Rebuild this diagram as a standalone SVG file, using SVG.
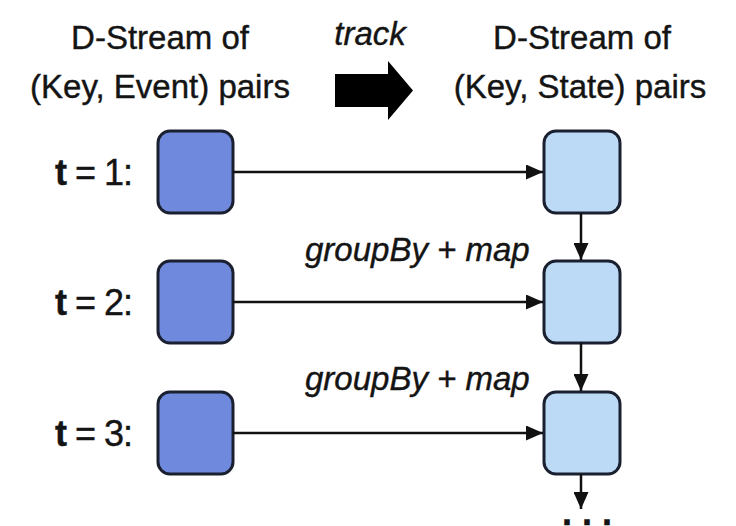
<svg xmlns="http://www.w3.org/2000/svg" width="736" height="526" viewBox="0 0 736 526">
  <defs>
    <marker id="ah" markerUnits="userSpaceOnUse" markerWidth="18" markerHeight="15" refX="17" refY="7.5" orient="auto">
      <path d="M0,0 L17,7.5 L0,15 z" fill="#111"/>
    </marker>
    <style>
      .t { font-family: "Liberation Sans", Arial, sans-serif; fill: #141414; stroke: #141414; stroke-width: 0.4px; }
      .h { font-size: 33px; text-anchor: middle; }
      .it { font-style: italic; font-size: 33px; }
      .lab { font-size: 36px; letter-spacing: -1px; }
      .ev { fill: #6f89dc; stroke: #1b2030; stroke-width: 3; }
      .st { fill: #bcdaf5; stroke: #1b2030; stroke-width: 3; }
      .c { stroke: #111; stroke-width: 2.5; fill: none; marker-end: url(#ah); }
    </style>
  </defs>
  <rect width="736" height="526" fill="#fff"/>

  <g id="header-left">
    <text class="t h" x="160" y="49">D-Stream of</text>
    <text class="t h" x="160" y="98">(Key, Event) pairs</text>
  </g>
  <g id="header-track">
    <text class="t it" x="370" y="45" text-anchor="middle">track</text>
    <polygon points="335,74 388,74 388,61 413,90.5 388,120 388,107 335,107" fill="#000"/>
  </g>
  <g id="header-right">
    <text class="t h" x="582" y="49">D-Stream of</text>
    <text class="t h" x="580" y="98">(Key, State) pairs</text>
  </g>

  <g id="label-t1"><text class="t lab" x="55" y="185"><tspan font-weight="bold">t</tspan> = 1:</text></g>
  <g id="label-t2"><text class="t lab" x="55" y="315"><tspan font-weight="bold">t</tspan> = 2:</text></g>
  <g id="label-t3"><text class="t lab" x="55" y="446"><tspan font-weight="bold">t</tspan> = 3:</text></g>

  <g id="event1"><rect class="ev" x="158" y="131" width="75" height="82" rx="12"/></g>
  <g id="event2"><rect class="ev" x="158" y="261" width="75" height="82" rx="12"/></g>
  <g id="event3"><rect class="ev" x="158" y="392" width="75" height="82" rx="12"/></g>

  <g id="state1"><rect class="st" x="544" y="131" width="76" height="82" rx="12"/></g>
  <g id="state2"><rect class="st" x="544" y="261" width="76" height="82" rx="12"/></g>
  <g id="state3"><rect class="st" x="544" y="392" width="76" height="82" rx="12"/></g>

  <g id="connectors">
    <line class="c" x1="233" y1="172" x2="543" y2="172"/>
    <line class="c" x1="233" y1="302" x2="543" y2="302"/>
    <line class="c" x1="233" y1="433" x2="543" y2="433"/>
    <line class="c" x1="581" y1="213" x2="581" y2="260"/>
    <line class="c" x1="581" y1="343" x2="581" y2="391"/>
    <line class="c" x1="581" y1="474" x2="581" y2="509"/>
  </g>

  <g id="edge-labels">
    <text class="t it" x="305" y="261">groupBy + map</text>
    <text class="t it" x="305" y="390">groupBy + map</text>
  </g>

  <g id="ellipsis">
    <text class="t" x="562" y="525" font-size="36" font-weight="bold" letter-spacing="10">...</text>
  </g>
</svg>
